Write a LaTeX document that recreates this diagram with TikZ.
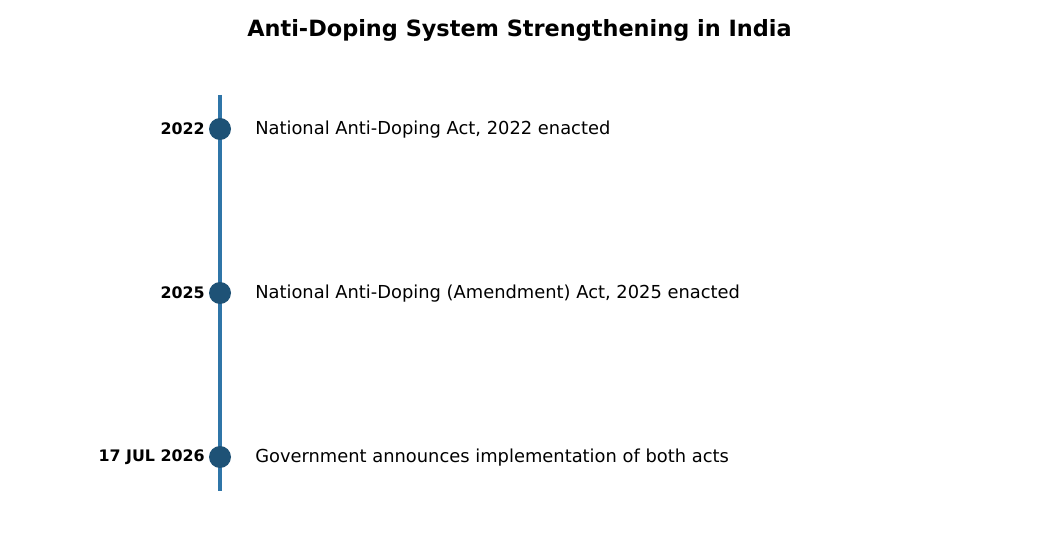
\documentclass[tikz,border=0pt]{standalone}
\usepackage{fontspec}
\setmainfont{DejaVu Sans}
\definecolor{linec}{HTML}{2F75A8}
\definecolor{dotc}{HTML}{1E5276}
\begin{document}
\begin{tikzpicture}[x=0.75pt,y=-0.75pt,
  dotmark/.style={circle,fill=dotc,inner sep=0pt,minimum size=16.5pt},
  yearlbl/.style={anchor=east,inner sep=0pt,font=\fontsize{11.9pt}{14pt}\selectfont\bfseries},
  eventlbl/.style={anchor=west,inner sep=0pt,font=\fontsize{13.4pt}{16pt}\selectfont}]
\useasboundingbox[fill=white] (0,0) rectangle (1040,559);
\node[font=\fontsize{16.8pt}{20pt}\selectfont\bfseries] (title) at (519.5,30.5) {Anti-Doping System Strengthening in India};
\coordinate (top) at (220,95);
\coordinate (bot) at (220,491);
\draw[linec,line width=2.4pt] (top) -- (bot);
\node[dotmark] (d1) at (220,129) {};
\node[dotmark] (d2) at (220,293) {};
\node[dotmark] (d3) at (220,457) {};
\node[yearlbl] (y1) at (205,129) {2022};
\node[yearlbl] (y2) at (205,293) {2025};
\node[yearlbl] (y3) at (205,457) {17 JUL 2026};
\node[eventlbl] (e1) at (255,130) {National Anti-Doping Act, 2022 enacted};
\node[eventlbl] (e2) at (255,294) {National Anti-Doping (Amendment) Act, 2025 enacted};
\node[eventlbl] (e3) at (255,458) {Government announces implementation of both acts};
\end{tikzpicture}
\end{document}
